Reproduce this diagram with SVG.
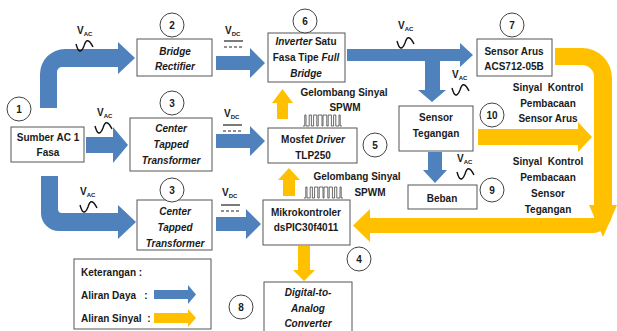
<svg xmlns="http://www.w3.org/2000/svg" width="617" height="331" viewBox="0 0 617 331">
<style>
text{font-family:"Liberation Sans",Arial,sans-serif;font-weight:bold;font-size:10px;fill:#1a1a1a}
.c{text-anchor:middle}
.i{font-style:italic}
.box{fill:#fff;stroke:#555;stroke-width:1}
.num{fill:#fff;stroke:#444;stroke-width:1}
.blue{fill:#4f81bd}
.yel{fill:#ffc000}
.sine{fill:none;stroke:#111;stroke-width:1.4}
.pwm{fill:none;stroke:#444;stroke-width:0.8}
.sub{font-size:6px}
.dc{stroke:#222;stroke-width:1.2}
.dash{stroke:#222;stroke-width:1.2;stroke-dasharray:3 2}
</style>
<defs>
<path id="sine" d="M0,5 Q3.5,18 8,7 Q11,-4 17,8"/>
<path id="pwm" d="M303,126 H304.8 V115 H306 V126 H309.2 V115 H311.4 V126 H313.6 V115 H316.8 V126 H318.2 V115 H322 V126 H323 V115 H326.8 V126 H328.2 V115 H331.4 V126 H333.6 V115 H335.8 V126 H339 V115 H340.2 V126 H342"/>
</defs>
<rect width="617" height="331" fill="#fff"/>

<g id="connectors">
<path class="blue" d="M40,108 V74 A25,25 0 0 1 65,49 H118 V42 L135,58 L118,74 V67 H62 A5,5 0 0 0 57,72 V108 Z"/>
<path class="blue" d="M86,137 H113 V127 L128,145 L113,163 V153 H86 Z"/>
<path class="blue" d="M41,176 V213 A18,18 0 0 0 59,231 H118 V239 L136,222 L118,205 V213 H62 A4,4 0 0 1 58,209 V176 Z"/>
<path class="blue" d="M216,56 H250 V48 L265,63 L250,78 V70 H216 Z"/>
<path class="blue" d="M216,134 H250 V126 L265,141 L250,156 V148 H216 Z"/>
<path class="blue" d="M216,217 H246 V209 L261,224 L246,239 V231 H216 Z"/>
<path class="blue" d="M347,49 H460 V43 L473,55 L460,67 V61 H440 V90 H446 L432,102 L418,90 H425 V61 H347 Z"/>
<path class="blue" d="M428,152 H442 V170 H447 L435,183 L423,170 H428 Z"/>
<path class="yel" d="M277,119 V103 H272 L282.5,89 L293,103 H288 V119 Z"/>
<path class="yel" d="M283,196 V180 H278 L289,168 L300,180 H295 V196 Z"/>
<path class="yel" d="M298,246 H310 V270 H315 L304,281 L293,270 H298 Z"/>
<path class="yel" d="M478,129 H578 V122 L592,137 L578,152 V145 H478 Z"/>
<path class="yel" d="M555,48 H582 A30,30 0 0 1 612,78 V205 H617 L603,237 L589,205 H594 V78 A12,12 0 0 0 582,65 H555 Z"/>
<path class="yel" d="M353,225.5 L370,209 V218 H594 V205 H612 V213 A20,20 0 0 1 592,233 H370 V242 Z"/>
</g>

<g id="labels">
<text x="77" y="34">V<tspan class="sub" dy="2">AC</tspan></text>
<use href="#sine" class="sine" transform="translate(76,39)"/>
<text x="97" y="116">V<tspan class="sub" dy="2">AC</tspan></text>
<use href="#sine" class="sine" transform="translate(95,121)"/>
<text x="80" y="195">V<tspan class="sub" dy="2">AC</tspan></text>
<use href="#sine" class="sine" transform="translate(80,200)"/>
<text x="398" y="29">V<tspan class="sub" dy="2">AC</tspan></text>
<use href="#sine" class="sine" transform="translate(397,36)"/>
<text x="452" y="78">V<tspan class="sub" dy="2">AC</tspan></text>
<use href="#sine" class="sine" transform="translate(452,83)"/>
<text x="457" y="162">V<tspan class="sub" dy="2">AC</tspan></text>
<use href="#sine" class="sine" transform="translate(457,167)"/>

<text x="225" y="34">V<tspan class="sub" dy="2">DC</tspan></text>
<line class="dc" x1="224" y1="41" x2="243" y2="41"/>
<line class="dash" x1="224" y1="47" x2="243" y2="47"/>
<text x="224" y="117">V<tspan class="sub" dy="2">DC</tspan></text>
<line class="dc" x1="223" y1="125" x2="242" y2="125"/>
<line class="dash" x1="223" y1="131" x2="242" y2="131"/>
<text x="222" y="196">V<tspan class="sub" dy="2">DC</tspan></text>
<line class="dc" x1="221" y1="205" x2="240" y2="205"/>
<line class="dash" x1="221" y1="211" x2="240" y2="211"/>

<text class="c" x="344" y="95.5">Gelombang Sinyal</text>
<text class="c" x="345" y="110.5">SPWM</text>
<use href="#pwm" class="pwm"/>
<text class="c" x="357" y="179.5">Gelombang Sinyal</text>
<text class="c" x="370" y="195.5">SPWM</text>
<use href="#pwm" class="pwm" transform="translate(1,72)"/>

<text class="c" x="548" y="90.5" xml:space="preserve">Sinyal  Kontrol</text>
<text class="c" x="548" y="106.5">Pembacaan</text>
<text class="c" x="548" y="121.5">Sensor Arus</text>
<text class="c" x="548" y="164.5" xml:space="preserve">Sinyal  Kontrol</text>
<text class="c" x="548" y="180.5">Pembacaan</text>
<text class="c" x="548" y="196.5">Sensor</text>
<text class="c" x="548" y="212.5">Tegangan</text>
</g>

<g id="node1">
<rect class="box" x="11" y="127" width="73" height="35"/>
<text class="c" x="48" y="140.5">Sumber AC 1</text>
<text class="c" x="48" y="155.5">Fasa</text>
<circle class="num" cx="19" cy="109" r="12"/><text class="c" x="19" y="112.5">1</text>
</g>
<g id="node2">
<rect class="box" x="137" y="39" width="75" height="37"/>
<text class="c i" x="175" y="54.5">Bridge</text>
<text class="c i" x="175" y="69.5">Rectifier</text>
<circle class="num" cx="172" cy="25" r="12"/><text class="c" x="172" y="28.5">2</text>
</g>
<g id="node3a">
<rect class="box" x="130" y="118" width="82" height="53"/>
<text class="c i" x="171" y="131.5">Center</text>
<text class="c i" x="171" y="147.5">Tapped</text>
<text class="c i" x="171" y="163.5">Transformer</text>
<circle class="num" cx="172" cy="103" r="12"/><text class="c" x="172" y="106.5">3</text>
</g>
<g id="node3b">
<rect class="box" x="137" y="200" width="75" height="50"/>
<text class="c i" x="175" y="214.5">Center</text>
<text class="c i" x="175" y="230.5">Tapped</text>
<text class="c i" x="175" y="246.5">Transformer</text>
<circle class="num" cx="172" cy="190" r="12"/><text class="c" x="172" y="193.5">3</text>
</g>
<g id="node6">
<rect class="box" x="268" y="33" width="77" height="49"/>
<text class="c" x="306" y="44.5"><tspan class="i">Inverter</tspan> Satu</text>
<text class="c" x="306" y="60.5">Fasa Tipe <tspan class="i">Full</tspan></text>
<text class="c i" x="306" y="76.5">Bridge</text>
<circle class="num" cx="305" cy="21" r="12"/><text class="c" x="305" y="24.5">6</text>
</g>
<g id="node7">
<rect class="box" x="477" y="39" width="75" height="37"/>
<text class="c" x="514" y="54.5">Sensor Arus</text>
<text class="c" x="514" y="69.5">ACS712-05B</text>
<circle class="num" cx="512" cy="25" r="12"/><text class="c" x="512" y="28.5">7</text>
</g>
<g id="node5">
<rect class="box" x="268" y="128" width="89" height="35"/>
<text class="c" x="313" y="142.5">Mosfet <tspan class="i">Driver</tspan></text>
<text class="c" x="313" y="158.5">TLP250</text>
<circle class="num" cx="375" cy="145" r="12"/><text class="c" x="375" y="148.5">5</text>
</g>
<g id="node4">
<rect class="box" x="263" y="200" width="87" height="45"/>
<text class="c" x="306" y="215.5">Mikrokontroler</text>
<text class="c" x="306" y="230.5">dsPIC30f4011</text>
<circle class="num" cx="359" cy="259" r="12"/><text class="c" x="359" y="262.5">4</text>
</g>
<g id="node8">
<rect class="box" x="264" y="282" width="88" height="55"/>
<text class="c i" x="308" y="295.5">Digital-to-</text>
<text class="c i" x="308" y="311.5">Analog</text>
<text class="c i" x="308" y="326.5">Converter</text>
<circle class="num" cx="241" cy="307" r="12"/><text class="c" x="241" y="310.5">8</text>
</g>
<g id="node10">
<rect class="box" x="399" y="106" width="74" height="45"/>
<text class="c" x="436" y="120.5">Sensor</text>
<text class="c" x="436" y="136.5">Tegangan</text>
<circle class="num" cx="492" cy="115" r="12"/><text class="c" x="492" y="118.5">10</text>
</g>
<g id="node9">
<rect class="box" x="408" y="185" width="69" height="24"/>
<text class="c" x="442" y="201.5">Beban</text>
<circle class="num" cx="492" cy="190" r="12"/><text class="c" x="492" y="193.5">9</text>
</g>
<g id="legend">
<rect class="box" x="74" y="259" width="137" height="70"/>
<text x="81" y="275.5">Keterangan :</text>
<text x="81" y="298.5" xml:space="preserve">Aliran Daya   :</text>
<text x="81" y="321.5" xml:space="preserve">Aliran Sinyal  :</text>
<path class="blue" d="M154,290 H188 V285 L196,294.5 L188,304 V299 H154 Z"/>
<path class="yel" d="M154,313 H188 V309 L196,318 L188,327 V323 H154 Z"/>
</g>
</svg>
